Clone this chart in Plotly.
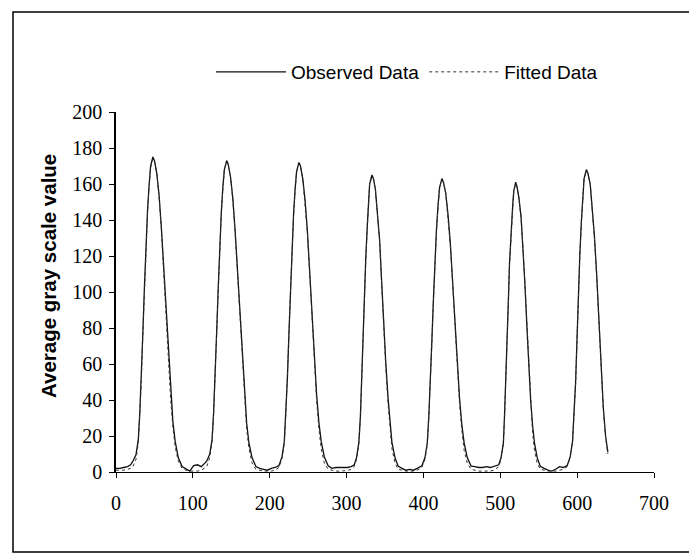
import plotly.graph_objects as go

# Pixel position along the scan line (x) and average gray-scale values
position = [
    0, 5, 10, 15, 19,
    22, 26, 29, 31, 33, 35, 37, 39, 41, 43, 45, 48, 50, 53, 56, 59, 62, 65, 68, 71, 74, 77, 81, 86,
    91, 96, 101, 106, 111, 115,
    118, 122, 125, 127, 129, 131, 133, 135, 137, 139, 141, 144, 146, 149, 152, 155, 158, 161, 164, 167, 170, 173, 177, 182,
    187, 192, 197, 202, 207,
    212, 216, 219, 221, 223, 225, 227, 229, 231, 233, 235, 238, 240, 243, 246, 249, 252, 255, 258, 261, 264, 267, 271, 276,
    281, 286, 291, 296, 301, 306,
    310, 313, 316, 318, 319.5, 321, 323, 325, 327, 328.5, 330, 333, 335, 337.5, 340, 343, 345.5, 348, 351, 354, 356.5, 359, 363, 367,
    372, 377, 382, 387, 392,
    398, 402, 405, 407, 409, 411, 413, 415, 417, 419, 421, 424, 426, 429, 432, 435, 438, 441, 444, 447, 450, 453, 457, 462,
    467, 472, 477, 482, 487, 492,
    498, 501, 504, 505.5, 507, 509, 510.5, 512, 514, 516, 517.5, 520, 521.5, 524, 527, 529.5, 532, 534.5, 537, 539.5, 542, 544.5, 548, 552,
    557, 562, 567, 572, 577, 582,
    587, 591, 594, 596, 598, 600, 601.5, 603.5, 605.5, 607, 609, 612, 614, 617, 619.5, 622.5, 625.5, 628, 631, 634, 637, 640,
]

observed = [
    2, 2, 2.5, 3, 4,
    6, 9.5, 18, 33, 52, 78, 103, 126, 145, 159, 170, 175, 173, 166, 154, 136, 114, 89, 65, 44, 28, 17, 8, 3,
    1.5, 0.5, 3.5, 4, 3, 4.5,
    6, 10, 18, 33, 52, 78, 102, 125, 144, 158, 168, 173, 171, 164, 152, 134, 112, 88, 64, 43, 27, 16, 8, 3,
    2, 1.5, 1, 2, 2.5,
    3.5, 8.5, 17, 33, 52, 77, 101, 124, 143, 157, 167, 172, 170, 163, 151, 134, 112, 88, 64, 43, 27.5, 17, 8.5, 3.5,
    2, 2.5, 2.5, 2.5, 2.5, 3,
    4, 8, 16.5, 31, 50, 74, 97, 119, 137, 150, 160, 165, 163, 157, 145, 129, 107, 84, 61, 41, 26, 16.5, 8, 3.3,
    2, 1, 1.5, 1, 2,
    3.5, 8, 16, 31, 49, 73, 96, 117, 135, 148, 158, 163, 161, 155, 143, 127, 106, 83, 60, 41, 26, 16, 8, 3.3,
    3, 2.5, 2.5, 3, 2.5, 3,
    4, 8, 16, 31, 48, 72, 95, 116, 134, 147, 156, 161, 159, 153, 142, 126, 105, 82, 60, 40, 26, 16, 8, 3.2,
    2, 1, 0.5, 1.5, 3, 2.5,
    3.5, 8.5, 17, 32, 50, 76, 99, 121, 139, 153, 163, 168, 166, 160, 148, 131, 109, 86, 58, 36, 20, 11,
]

fitted = [
    1, 1, 1, 1.5, 2,
    3, 7, 16, 31, 51, 77, 102, 125, 144, 158, 169, 174, 173, 166, 153, 135, 112, 87, 62, 41, 25, 14, 6, 2,
    1, 0.5, 0.5, 0.5, 1, 2,
    3, 8, 17, 32, 51, 77, 101, 124, 143, 157, 168, 172, 171, 164, 151, 133, 111, 86, 61, 40, 24, 13, 5, 1.5,
    0.8, 0.5, 0.5, 0.5, 1,
    2.5, 7.5, 16, 32, 51, 76, 100, 123, 142, 156, 167, 171, 170, 163, 150, 133, 111, 86, 61, 40, 24, 13, 5, 1.5,
    1, 0.5, 0.5, 0.5, 0.8, 1.5,
    3, 7, 15.5, 30, 49, 73, 96, 118, 136, 149, 160, 164, 163, 157, 144, 128, 106, 82, 58, 38, 23, 13, 5, 1.5,
    1, 0.5, 0.5, 0.5, 1,
    2.5, 7, 15, 30, 48, 72, 95, 116, 134, 147, 158, 162, 161, 155, 142, 126, 105, 81, 57, 38, 23, 12, 5, 1.5,
    1, 0.5, 0.5, 0.5, 0.5, 1,
    3, 7, 15, 30, 47, 71, 94, 115, 133, 146, 156, 160, 159, 153, 141, 125, 104, 80, 56, 36, 22, 12, 5, 1.5,
    1, 0.5, 0.5, 0.5, 1, 1.5,
    3, 8, 16, 31, 49, 75, 98, 120, 138, 152, 163, 167, 166, 160, 147, 130, 108, 85, 57, 35, 19, 10,
]

assert len(position) == len(observed) == len(fitted)

x_ticks = [0, 100, 200, 300, 400, 500, 600, 700]
y_ticks = [0, 20, 40, 60, 80, 100, 120, 140, 160, 180, 200]
y_title = "Average gray scale value"

fig = go.Figure()
fig.add_trace(go.Scatter(x=position, y=observed, mode="lines", name="Observed Data",
                         line=dict(color="#111111", width=1.3)))
fig.add_trace(go.Scatter(x=position, y=fitted, mode="lines", name="Fitted Data",
                         line=dict(color="#333333", width=1, dash="dot")))

# The page body adds an 8 px margin, so the figure is sized/placed to compensate.
OFF = 8
W, H = 697 - OFF, 556 - OFF
L, T = 116 - OFF, 112 - OFF
R = W - (654 - OFF)
B = H - (472 - OFF)
pw, ph = W - L - R, H - T - B

def px_x(sx):
    return (sx - OFF - L) / pw

def px_y(sy):
    return (H - B - (sy - OFF)) / ph

fig.update_layout(
    width=W, height=H,
    margin=dict(l=L, r=R, t=T, b=B),
    paper_bgcolor="white", plot_bgcolor="white",
    showlegend=True,
    legend=dict(orientation="h", x=px_x(211), y=px_y(72), xanchor="left", yanchor="middle",
                font=dict(family="Liberation Sans, Arial", size=19, color="black"),
                bgcolor="rgba(0,0,0,0)", itemwidth=70),
    xaxis=dict(range=[0, 700], tickvals=x_ticks, showgrid=False, zeroline=False,
               showline=True, linecolor="black", linewidth=1,
               ticks="outside", ticklen=5, tickcolor="black",
               ticklabelstandoff=8,
               tickfont=dict(family="Liberation Serif, Times New Roman", size=20, color="black")),
    yaxis=dict(range=[0, 200], tickvals=y_ticks, showgrid=False, zeroline=False,
               showline=True, linecolor="black", linewidth=1.5,
               ticks="outside", ticklen=5, tickcolor="black",
               ticklabelstandoff=3,
               tickfont=dict(family="Liberation Serif, Times New Roman", size=20, color="black")),
    shapes=[dict(type="rect", xref="paper", yref="paper",
                 x0=px_x(13), x1=px_x(693), y0=px_y(552), y1=px_y(12),
                 line=dict(color="black", width=1.5), fillcolor="rgba(0,0,0,0)")],
    annotations=[dict(text=y_title, xref="paper", yref="paper", x=px_x(48), y=px_y(276),
                      textangle=-90, showarrow=False, xanchor="center", yanchor="middle",
                      font=dict(family="Liberation Sans, Arial", size=20.5, color="black", weight="bold"))],
)

fig.write_html("out.html")
